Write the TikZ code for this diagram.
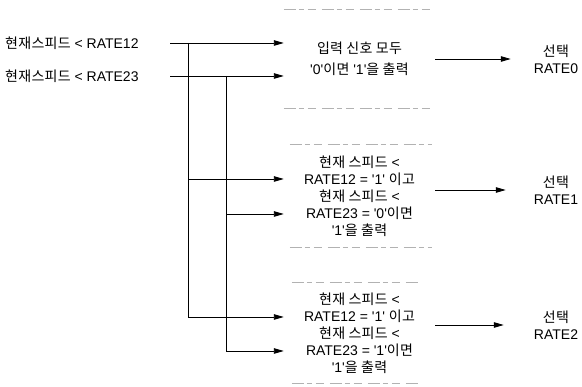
\documentclass[tikz,border=0pt]{standalone}
\usepackage{fontspec}
\usetikzlibrary{arrows.meta}
\newfontfamily\lat{Liberation Sans}
\newfontfamily\kr{Noto Sans CJK KR}[Scale=1.0,LetterSpace=2]
\newcommand\K[1]{{\kr #1}}
\tikzset{
  txt/.style={inner sep=1pt, align=center},
  boxnode/.style={inner sep=0pt, minimum width=151, align=center},
  edgeline/.style={draw=gray!60, line width=0.7pt, dash pattern=on 12pt off 3pt on 5pt off 4pt on 8pt off 6pt},
  arr/.style={line width=0.9pt, -{Triangle[length=10pt,width=5.5pt]}},
  ln/.style={line width=0.9pt}
}
\begin{document}
\begin{tikzpicture}[x=1pt,y=-1pt, font=\lat\fontsize{14}{17}\selectfont]
\useasboundingbox[fill=white] (0,0) rectangle (582,387);

% inputs
\node[txt, anchor=west] (in1) at (4,43) {\K{현재스피드} < RATE12};
\node[txt, anchor=west] (in2) at (4,76) {\K{현재스피드} < RATE23};
\coordinate (s1) at (170,43);
\coordinate (s2) at (170,76);
\coordinate (j1) at (188,43);
\coordinate (j2) at (226,76);

% boxes
\node[boxnode, minimum height=98] (b1) at (359.5,59)
  {\K{입력 신호 모두}\\[4pt]'0'\K{이면} '1'\K{을 출력}};
\node[boxnode, minimum height=103] (b2) at (359.5,196)
  {\K{현재 스피드} <\\RATE12 = '1' \K{이고}\\\K{현재 스피드} <\\RATE23 = '0'\K{이면}\\'1'\K{을 출력}};
\node[boxnode, minimum height=101] (b3) at (359.5,333)
  {\K{현재 스피드} <\\RATE12 = '1' \K{이고}\\\K{현재 스피드} <\\RATE23 = '1'\K{이면}\\'1'\K{을 출력}};

% box edges (faint, broken)
\draw[edgeline] (b1.north west) -- (b1.north east);
\draw[edgeline] (b1.south west) -- (b1.south east);
\draw[edgeline] ([xshift=6pt]b2.north west) -- ([xshift=-3pt]b2.north east);
\draw[edgeline] ([xshift=6pt]b2.south west) -- ([xshift=-3pt]b2.south east);
\draw[edgeline] ([xshift=8pt]b3.north west) -- ([xshift=-17pt]b3.north east);
\draw[edgeline] ([xshift=8pt]b3.south west) -- ([xshift=-17pt]b3.south east);

% outputs
\node[txt] (o1) at (556,59) {\K{선택}\\RATE0};
\node[txt] (o2) at (556,190) {\K{선택}\\RATE1};
\node[txt] (o3) at (556,325) {\K{선택}\\RATE2};

% connectors
\draw[arr] (s1) -- (b1.west |- s1);
\draw[arr] (s2) -- (b1.west |- s2);
\draw[ln] (j1) -- (j1 |- 0,317);
\draw[ln] (j2) -- (j2 |- 0,351);
\draw[arr] (j1 |- 0,179) -- (b2.west |- 0,179);
\draw[arr] (j2 |- 0,214) -- (b2.west |- 0,214);
\draw[arr] (j1 |- 0,317) -- (b3.west |- 0,317);
\draw[arr] (j2 |- 0,351) -- (b3.west |- 0,351);

\draw[arr, shorten >=22pt] (b1.east |- o1.west) -- (o1.west);
\draw[arr, shorten >=27pt] (b2.east |- o2.west) -- (o2.west);
\draw[arr, shorten >=29pt] (b3.east |- o3.west) -- (o3.west);
\end{tikzpicture}
\end{document}
